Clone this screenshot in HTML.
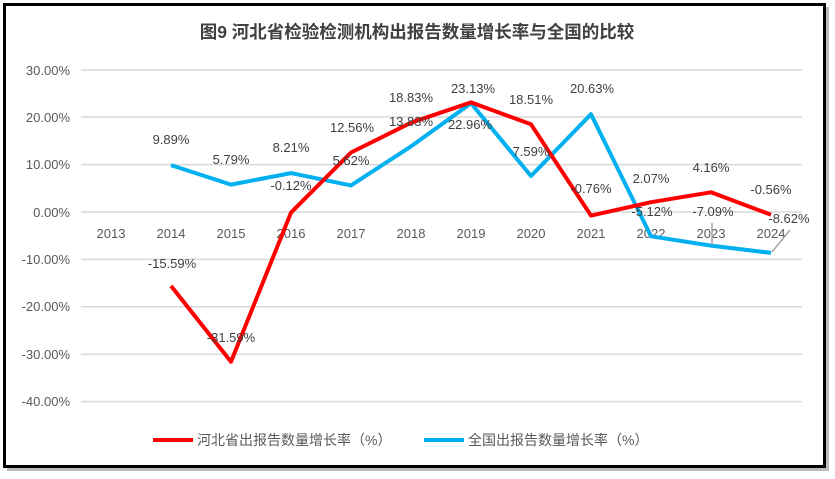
<!DOCTYPE html>
<html><head><meta charset="utf-8"><style>
body{margin:0;background:#fff;}
svg{display:block;font-family:"Liberation Sans","Noto Sans CJK SC",sans-serif;}
</style></head><body>
<svg width="835" height="479" viewBox="0 0 835 479">
<rect x="7" y="7" width="822" height="464" fill="#bbb"/>
<rect x="4.5" y="4.5" width="820" height="462" fill="#fff" stroke="#000" stroke-width="3"/>
<text x="417" y="38" text-anchor="middle" font-size="17.5" font-weight="bold" fill="#404040">图9  河北省检验检测机构出报告数量增长率与全国的比较</text>
<g stroke="#d9d9d9" stroke-width="1.5">
<line x1="81" x2="802" y1="70" y2="70"/><line x1="81" x2="802" y1="117" y2="117"/>
<line x1="81" x2="802" y1="164.6" y2="164.6"/><line x1="81" x2="802" y1="212" y2="212"/>
<line x1="81" x2="802" y1="259.4" y2="259.4"/><line x1="81" x2="802" y1="306.8" y2="306.8"/>
<line x1="81" x2="802" y1="354.2" y2="354.2"/><line x1="81" x2="802" y1="401.6" y2="401.6"/>
</g>
<g font-size="13" fill="#595959" text-anchor="end">
<text x="70" y="75">30.00%</text><text x="70" y="122">20.00%</text><text x="70" y="169">10.00%</text>
<text x="70" y="217">0.00%</text><text x="70" y="264">-10.00%</text><text x="70" y="311">-20.00%</text>
<text x="70" y="359">-30.00%</text><text x="70" y="406">-40.00%</text>
</g>
<g font-size="13" fill="#595959" text-anchor="middle">
<text x="111" y="238">2013</text><text x="171" y="238">2014</text><text x="231" y="238">2015</text>
<text x="291" y="238">2016</text><text x="351" y="238">2017</text><text x="411" y="238">2018</text>
<text x="471" y="238">2019</text><text x="531" y="238">2020</text><text x="591" y="238">2021</text>
<text x="651" y="238">2022</text><text x="711" y="238">2023</text><text x="771" y="238">2024</text>
</g>
<polyline fill="none" stroke="#00b0f0" stroke-width="4" stroke-linejoin="round" points="171,165.1 231,184.6 291,173.1 351,185.4 411,146.4 471,103.2 531,176 591,114.2 651,236.3 711,245.6 771,252.9"/>
<polyline fill="none" stroke="#ff0000" stroke-width="4" stroke-linejoin="round" points="171,285.9 231,361.7 291,212.6 351,152.5 411,122.7 471,102.4 531,124.3 591,215.6 651,202.2 711,192.3 771,214.7"/>
<g stroke="#a6a6a6" stroke-width="1.5"><line x1="712" y1="223" x2="712" y2="245"/><line x1="772" y1="252" x2="790" y2="230"/></g>
<g font-size="13" fill="#404040" text-anchor="middle">
<text x="172" y="268">-15.59%</text><text x="231" y="342">-31.59%</text><text x="291" y="190">-0.12%</text>
<text x="352" y="132">12.56%</text><text x="411" y="102">18.83%</text><text x="473" y="93">23.13%</text>
<text x="531" y="104">18.51%</text><text x="591" y="193">-0.76%</text><text x="651" y="183">2.07%</text>
<text x="711" y="172">4.16%</text><text x="771" y="194">-0.56%</text>
<text x="171" y="144">9.89%</text><text x="231" y="164">5.79%</text><text x="291" y="152">8.21%</text>
<text x="351" y="165">5.62%</text><text x="411" y="126">13.83%</text><text x="470" y="129">22.96%</text>
<text x="531" y="156">7.59%</text><text x="592" y="93">20.63%</text><text x="652" y="216">-5.12%</text>
<text x="713" y="216">-7.09%</text><text x="789" y="223">-8.62%</text>
</g>
<line x1="153" x2="193" y1="440" y2="440" stroke="#ff0000" stroke-width="4"/>
<text x="197" y="445" font-size="14" fill="#595959">河北省出报告数量增长率（%）</text>
<line x1="424" x2="464" y1="440" y2="440" stroke="#00b0f0" stroke-width="4"/>
<text x="468" y="445" font-size="14" fill="#595959">全国出报告数量增长率（%）</text>
</svg>
</body></html>
